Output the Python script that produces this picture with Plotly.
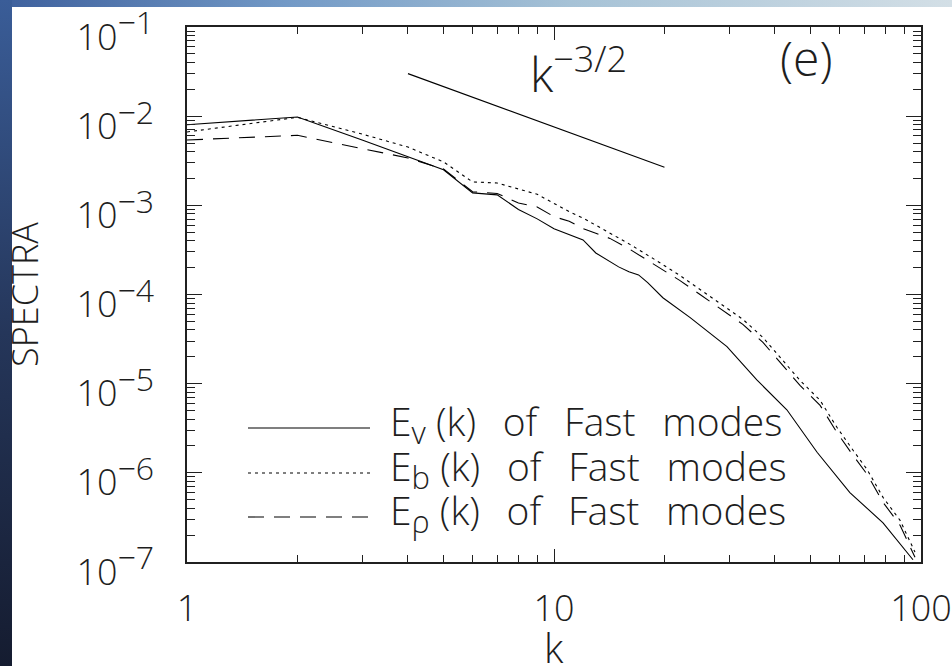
import base64
import plotly.graph_objects as go

# ---------------- data ----------------
k_v = [1, 2, 3, 4, 5, 6, 7, 8, 9, 10, 11, 12, 13, 14, 15, 16, 17, 18, 19.8,
       23.5, 29.6, 35.7, 43.1, 52.1, 64.0, 78.8, 95.1]
E_v = [8.0e-3, 9.8e-3, 5.4e-3, 3.5e-3, 2.5e-3, 1.38e-3, 1.31e-3, 9.0e-4, 7.05e-4,
       5.45e-4, 4.65e-4, 4.09e-4, 2.92e-4, 2.44e-4, 2.04e-4, 1.8e-4, 1.66e-4,
       1.36e-4, 9.2e-5, 5.5e-5, 2.6e-5, 1.1e-5, 5.1e-6, 1.7e-6, 6.0e-7, 2.75e-7,
       1.06e-7]

k_b = [1, 2, 3, 4, 5, 6, 7, 8, 9, 10, 11, 12, 13, 14.2, 16.1, 18.6, 22.0, 25.0,
       28.9, 32.7, 37.1, 42.1, 46.8, 53.1, 59.0, 65.3, 71.3, 78.8, 87.7, 96.3]
E_b = [6.65e-3, 9.7e-3, 6.3e-3, 4.5e-3, 3.07e-3, 1.83e-3, 1.78e-3, 1.51e-3, 1.33e-3,
       1.05e-3, 8.5e-4, 7.2e-4, 6.0e-4, 4.84e-4, 3.65e-4, 2.54e-4, 1.64e-4, 1.14e-4,
       7.55e-5, 5.26e-5, 3.30e-5, 1.82e-5, 1.09e-5, 6.5e-6, 3.24e-6, 1.79e-6,
       1.09e-6, 5.31e-7, 2.93e-7, 1.29e-7]

k_rho = [1, 2, 3, 4, 5, 6, 7, 8, 9, 10, 11, 12, 13, 14.2, 16.1, 18.6, 22.0, 25.0,
         28.9, 32.7, 37.1, 42.1, 46.8, 53.1, 59.0, 65.3, 71.3, 78.8, 87.7, 96.3]
E_rho = [5.4e-3, 6.1e-3, 4.33e-3, 3.4e-3, 2.55e-3, 1.42e-3, 1.36e-3, 1.06e-3, 9.6e-4,
         7.46e-4, 6.63e-4, 5.48e-4, 4.86e-4, 4.26e-4, 3.21e-4, 2.23e-4, 1.44e-4,
         1.0e-4, 6.64e-5, 4.62e-5, 2.9e-5, 1.6e-5, 9.57e-6, 5.71e-6, 2.84e-6,
         1.57e-6, 9.62e-7, 4.67e-7, 2.58e-7, 1.13e-7]

k_ref = [4, 20]
E_ref = [3.0e-2, 2.68e-3]

SUB = "<sub><span style='font-size:31px'>{}</span></sub>"
SP = "\u00a0\u2009 "
series_names = ["E" + SUB.format(s) + "\u00a0(k)" + SP + "of" + SP + "Fast" + SP + "modes"
                for s in ("v", "b", "ρ")]
series_dash = ["solid", "3px,4px", "16px,10px"]

y_tickvals = [1e-7, 1e-6, 1e-5, 1e-4, 1e-3, 1e-2, 1e-1]
y_ticktext = ["10<sup><span style='font-size:32px'>−%d</span></sup>" % e
              for e in (7, 6, 5, 4, 3, 2, 1)]
x_tickvals = [1, 10, 100]
x_ticktext = ["1", "10", "100"]

# ---------------- figure ----------------
W, H = 952, 666
L, R, T, B = 187, 31, 27, 104
PW, PH = W - L - R, H - T - B

FONT = "Open Sans"
TXT = "#1e1e1e"
fig = go.Figure()

for kk, ee, nm, ds in zip([k_v, k_b, k_rho], [E_v, E_b, E_rho], series_names, series_dash):
    fig.add_trace(go.Scatter(x=kk, y=ee, mode="lines", name=nm,
                             line=dict(color="black", width=1.1, dash=ds),
                             showlegend=False))
fig.add_trace(go.Scatter(x=k_ref, y=E_ref, mode="lines", name="k^-3/2",
                         line=dict(color="black", width=1.1), showlegend=False))

minor_x = [m * d for d in (1, 10) for m in range(2, 10)]
minor_y = [m * 10.0 ** e for e in range(-7, -1) for m in range(2, 10)]

axis_common = dict(showline=True, linecolor="#202020", linewidth=1.5, mirror="allticks",
                   ticks="inside", tickcolor="#202020", tickwidth=1, showgrid=False,
                   zeroline=False, tickfont=dict(family=FONT, size=36, color=TXT, weight=300))
fig.update_xaxes(type="log", range=[0, 2], tickvals=x_tickvals, ticktext=x_ticktext,
                 ticklen=13, ticklabelstandoff=14,
                 minor=dict(tickvals=minor_x, ticks="inside", ticklen=7, tickcolor="#202020",
                            tickwidth=1, showgrid=False),
                 **axis_common)
fig.update_yaxes(type="log", range=[-7, -1], tickvals=y_tickvals, ticktext=y_ticktext,
                 ticklen=15, ticklabelstandoff=24, ticklabelshift=10,
                 minor=dict(tickvals=minor_y, ticks="inside", ticklen=8, tickcolor="#202020",
                            tickwidth=1, showgrid=False),
                 title=dict(text="SPECTRA", font=dict(family=FONT, size=36, color=TXT, weight=300),
                            standoff=31),
                 **axis_common)

def px(xp):
    return (xp - L) / PW

def py(yp):
    return (H - B - yp) / PH

# legend drawn by hand (line samples + labels)
leg_rows = [428, 473, 517]
shapes = []
annotations = []
for yrow, nm, ds in zip(leg_rows, series_names, series_dash):
    shapes.append(dict(type="line", xref="paper", yref="paper", x0=px(248), x1=px(370),
                       y0=py(yrow), y1=py(yrow),
                       line=dict(color="black", width=1.1, dash=ds)))
    annotations.append(dict(xref="paper", yref="paper", x=px(388), y=py(yrow - 5),
                            xanchor="left", yanchor="middle", text=nm, showarrow=False,
                            font=dict(family=FONT, size=39, color=TXT, weight=300)))

annotations += [
    # x-axis title
    dict(xref="paper", yref="paper", x=0.5, y=py(619), text="k", showarrow=False,
         xanchor="center", yanchor="top", borderpad=0,
         font=dict(family=FONT, size=40, color=TXT, weight=300)),
    dict(xref="paper", yref="paper", x=px(806), y=py(57), text="(e)", showarrow=False,
         xanchor="center", yanchor="middle",
         font=dict(family=FONT, size=48, color=TXT, weight=300)),
    dict(xref="paper", yref="paper", x=px(528), y=py(108),
         text="k<sup><span style='font-size:36px'>−3/2</span></sup>", showarrow=False,
         xanchor="left", yanchor="bottom",
         font=dict(family=FONT, size=48, color=TXT, weight=300)),
]

svg = ('<svg xmlns="http://www.w3.org/2000/svg" width="952" height="666">'
       '<defs><linearGradient id="t" x1="0" x2="1" y1="0" y2="0">'
       '<stop offset="0" stop-color="#3d5f9c"/><stop offset="0.3" stop-color="#7299c6"/>'
       '<stop offset="0.6" stop-color="#a6c2d6"/><stop offset="1" stop-color="#d3dfe6"/>'
       '</linearGradient><linearGradient id="l" x1="0" x2="0" y1="0" y2="1">'
       '<stop offset="0" stop-color="#3a5d98"/><stop offset="0.5" stop-color="#25365a"/>'
       '<stop offset="1" stop-color="#151c30"/></linearGradient></defs>'
       '<rect x="0" y="0" width="952" height="7" fill="url(#t)"/>'
       '<rect x="0" y="0" width="12" height="666" fill="url(#l)"/></svg>')
src = "data:image/svg+xml;base64," + base64.b64encode(svg.encode()).decode()

fig.update_layout(
    width=W, height=H,
    margin=dict(l=L, r=R, t=T, b=B, pad=0, autoexpand=False),
    paper_bgcolor="white", plot_bgcolor="white",
    shapes=shapes, annotations=annotations,
    images=[dict(source=src, xref="paper", yref="paper", x=px(0), y=py(0),
                 sizex=W / PW, sizey=H / PH, xanchor="left", yanchor="top",
                 sizing="stretch", layer="below")],
    font=dict(family=FONT, color=TXT),
)

fig.write_html("out.html", config={"displayModeBar": False},
               post_script="document.body.style.margin='0';document.body.style.overflow='hidden';")
